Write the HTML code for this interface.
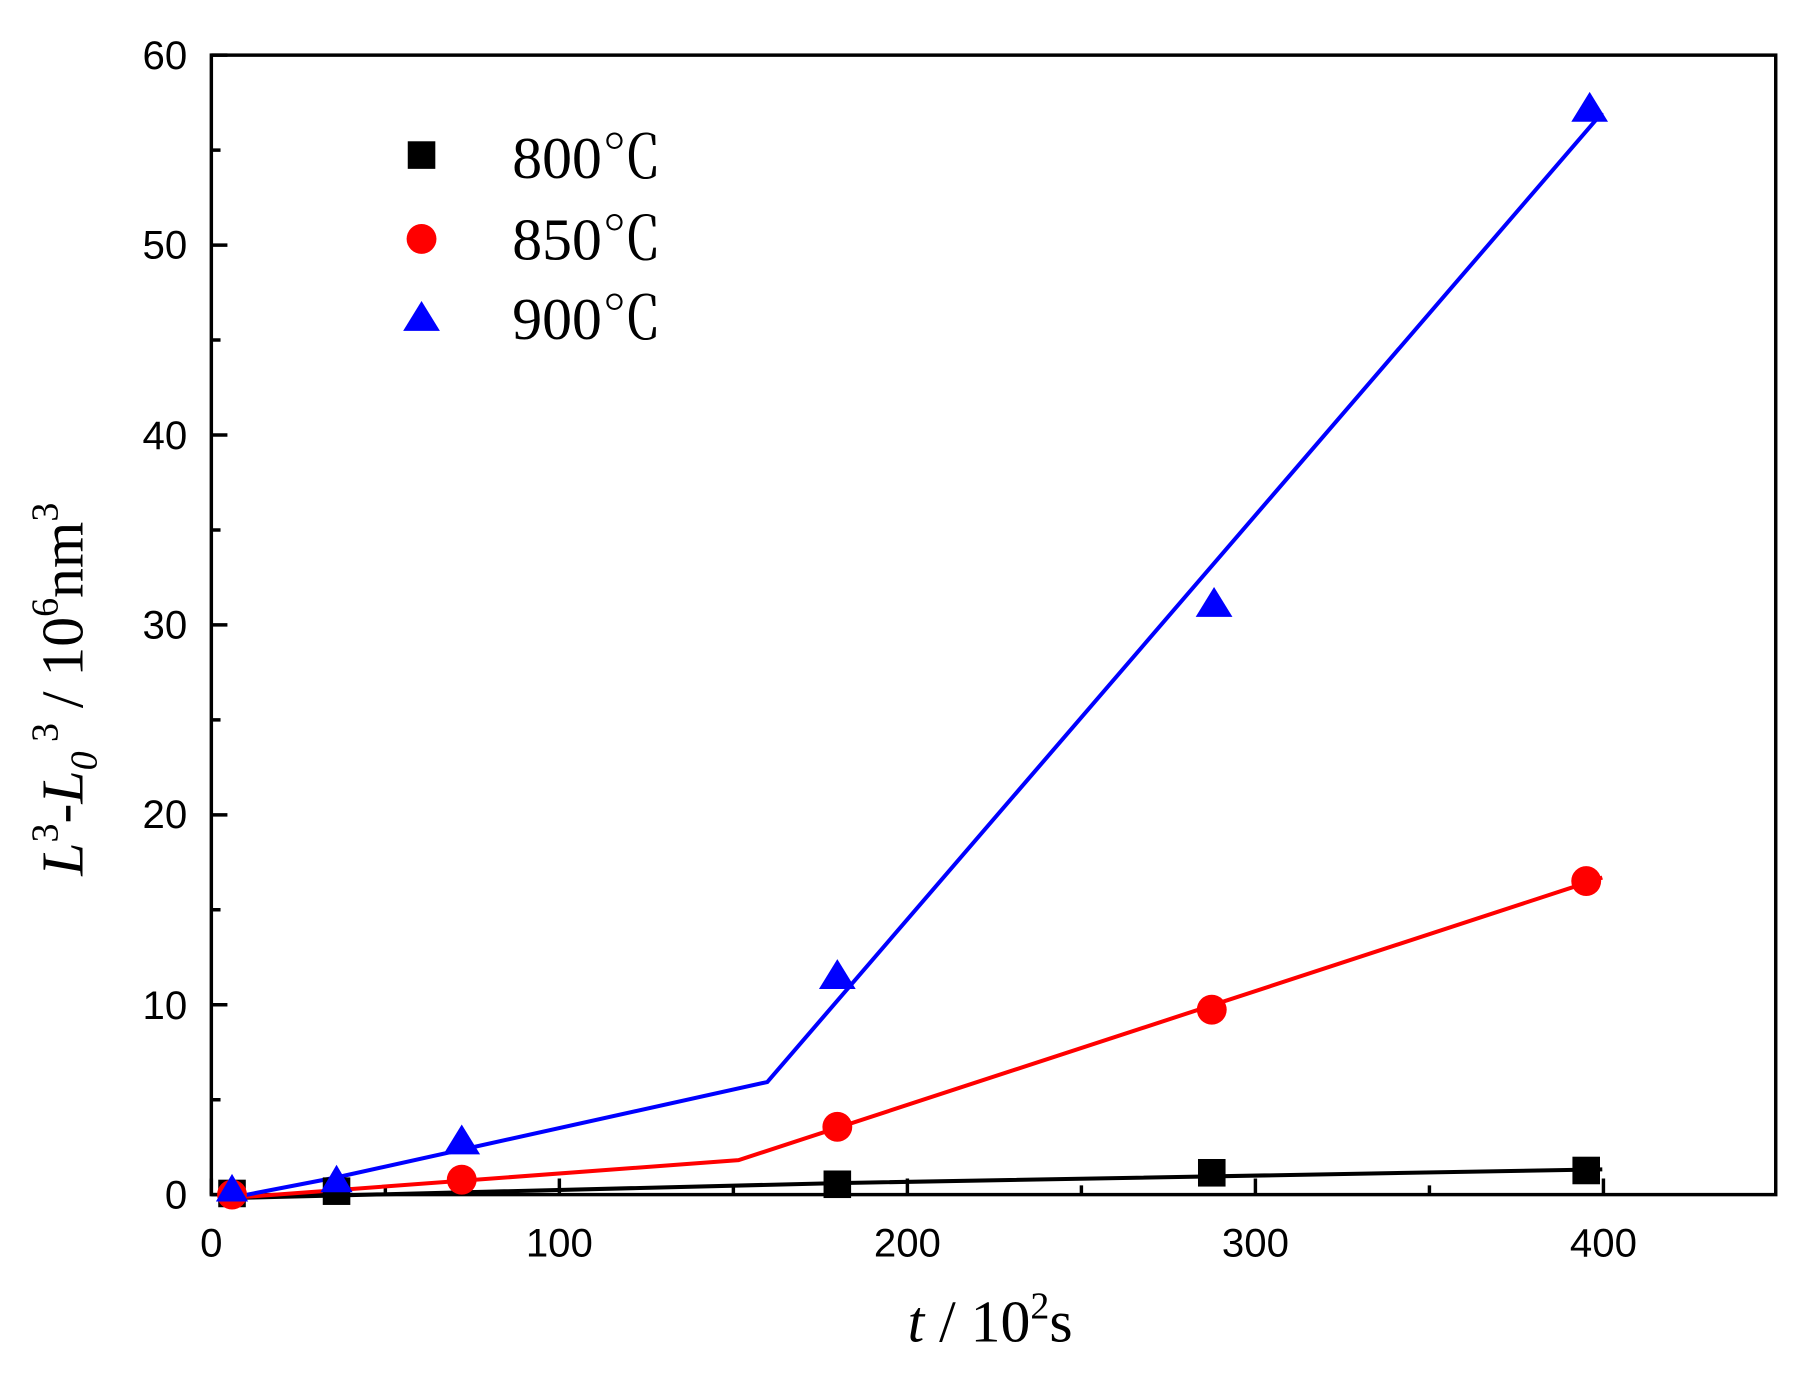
<!DOCTYPE html>
<html><head><meta charset="utf-8"><style>html,body{margin:0;padding:0;background:#fff}svg{display:block}</style></head><body>
<svg width="1801" height="1380" viewBox="0 0 1568 1201.4" preserveAspectRatio="none" xmlns="http://www.w3.org/2000/svg">
<rect width="1568" height="1202" fill="#fff"/>
<g stroke="#000" stroke-width="3" fill="none">
<rect x="184" y="48" width="1362" height="992"/>
<path d="M184.0,1040v-14M335.5,1040v-8M487.0,1040v-14M638.5,1040v-8M790.0,1040v-14M941.5,1040v-8M1093.0,1040v-14M1244.5,1040v-8M1396.0,1040v-14"/>
<path d="M184,1040h14M184,957.4h8M184,874.7h14M184,792h8M184,709.4h14M184,626.7h8M184,544h14M184,461.4h8M184,378.7h14M184,296h8M184,213.4h14M184,130.7h8M184,48h14"/>
</g>
<g font-family="Liberation Sans, Arial, sans-serif" font-size="35" fill="#000">
<g text-anchor="end"><text x="163" y="1052">0</text><text x="163" y="887">10</text><text x="163" y="721">20</text><text x="163" y="556">30</text><text x="163" y="391">40</text><text x="163" y="225">50</text><text x="163" y="60">60</text></g>
<g text-anchor="middle"><text x="184" y="1094">0</text><text x="487" y="1094">100</text><text x="790" y="1094">200</text><text x="1093" y="1094">300</text><text x="1396" y="1094">400</text></g>
</g>
<g fill="none" stroke-width="3.5">
<polyline stroke="#000" points="200,1043 729,1030 1395,1018"/>
<polyline stroke="#f00" points="200,1043 643,1010 1395,764"/>
<polyline stroke="#00f" points="200,1043 293,1025 668,942 1395,98"/>
</g>
<g fill="#000">
<rect x="190" y="1027" width="24" height="24"/><rect x="281" y="1025" width="24" height="24"/><rect x="717" y="1019" width="24" height="24"/><rect x="1043" y="1009" width="24" height="24"/><rect x="1369" y="1007" width="24" height="24"/>
</g>
<g fill="#f00">
<circle cx="202" cy="1040" r="13"/><circle cx="402" cy="1027" r="13"/><circle cx="729" cy="981" r="13"/><circle cx="1055" cy="879" r="13"/><circle cx="1381" cy="767" r="13"/>
</g>
<g fill="#00f">
<path d="M202,1022l14,24h-28z"/><path d="M293,1014l14,24h-28z"/><path d="M402,979l16,26h-32z"/><path d="M729,835l16,26h-32z"/><path d="M1057,511l16,26h-32z"/><path d="M1384,80l16,26h-32z"/>
</g>
<rect x="355" y="123" width="24" height="24" fill="#000"/>
<circle cx="367" cy="208" r="13" fill="#f00"/>
<path d="M367,262l16,26h-32z" fill="#00f"/>
<g font-family="Liberation Serif, 'Noto Serif CJK SC', serif" font-size="52" fill="#000">
<text x="446" y="155">800℃</text><text x="446" y="226">850℃</text><text x="446" y="295">900℃</text>
<text x="862" y="1168" text-anchor="middle"><tspan font-style="italic">t</tspan> / 10<tspan font-size="33" dy="-20">2</tspan><tspan dy="20">s</tspan></text>
<text transform="translate(72,600) rotate(-90)" text-anchor="middle"><tspan font-style="italic">L</tspan><tspan font-size="33" dy="-22">3</tspan><tspan dy="22">-</tspan><tspan font-style="italic">L</tspan><tspan font-size="33" font-style="italic" dy="12">0</tspan><tspan font-size="33" dy="-34"> 3</tspan><tspan dy="22"> / 10</tspan><tspan font-size="33" dy="-22">6</tspan><tspan dy="22">nm</tspan><tspan font-size="33" dy="-22">3</tspan></text>
</g>
</svg>
</body></html>
